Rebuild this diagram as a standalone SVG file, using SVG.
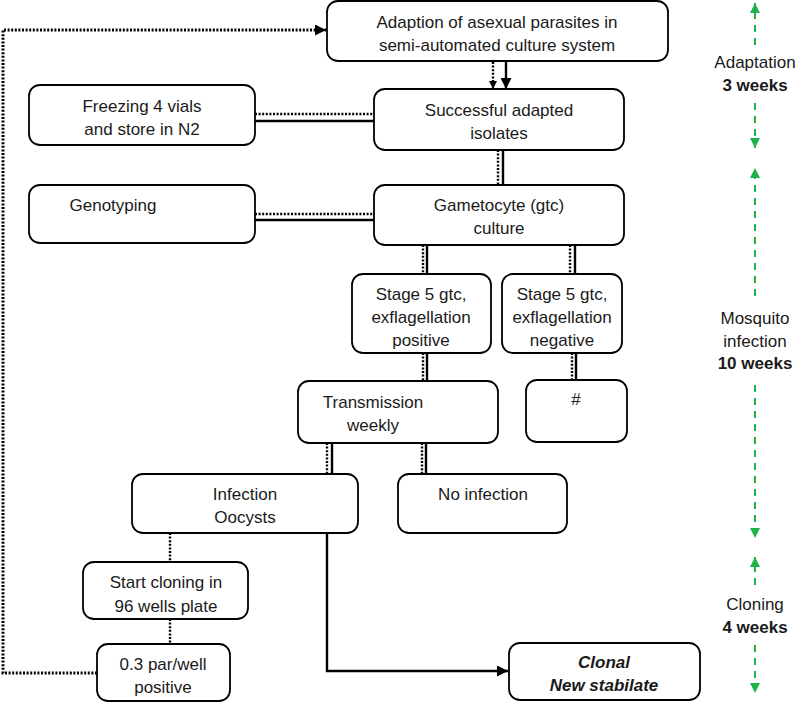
<svg xmlns="http://www.w3.org/2000/svg" width="797" height="703" viewBox="0 0 797 703">
<style>
.box{fill:#fff;stroke:#000;stroke-width:1.8}
.t{font-family:"Liberation Sans",Arial,sans-serif;font-size:17px;fill:#1a1a1a;text-anchor:middle}
.b{font-weight:bold}
.bi{font-weight:bold;font-style:italic}
.sol{fill:none;stroke:#000;stroke-width:2.4}
.dot{fill:none;stroke:#000;stroke-width:2.4;stroke-dasharray:2 1.6}
.grn{fill:none;stroke:#1db34a;stroke-width:2;stroke-dasharray:7 6}
</style>
<defs>
<marker id="ah" viewBox="0 0 10 10" refX="10" refY="5" markerWidth="11" markerHeight="11" markerUnits="userSpaceOnUse" orient="auto"><path d="M0,0L10,5L0,10z" fill="#000"/></marker>
<marker id="ahs" viewBox="0 0 10 10" refX="10" refY="5" markerWidth="8" markerHeight="8" markerUnits="userSpaceOnUse" orient="auto"><path d="M0,0L10,5L0,10z" fill="#000"/></marker>
<marker id="ag" viewBox="0 0 10 10" refX="10" refY="5" markerWidth="10" markerHeight="10" markerUnits="userSpaceOnUse" orient="auto"><path d="M0,0L10,5L0,10z" fill="#1db34a"/></marker>
</defs>

<g id="connectors">
<!-- adaption -> successful -->
<line class="dot" x1="493" y1="62" x2="493" y2="89" marker-end="url(#ahs)"/>
<line class="sol" x1="506" y1="62" x2="506" y2="89" marker-end="url(#ah)"/>
<!-- freezing - successful -->
<line class="dot" x1="255" y1="114" x2="374" y2="114"/>
<line class="sol" x1="255" y1="121" x2="374" y2="121"/>
<!-- genotyping - gametocyte -->
<line class="dot" x1="255" y1="214" x2="374" y2="214"/>
<line class="sol" x1="255" y1="220" x2="374" y2="220"/>
<!-- successful - gametocyte -->
<line class="dot" x1="498" y1="150" x2="498" y2="185"/>
<line class="sol" x1="503" y1="150" x2="503" y2="185"/>
<!-- gametocyte - stage5 pos/neg -->
<line class="dot" x1="423" y1="245" x2="423" y2="274"/>
<line class="sol" x1="427" y1="245" x2="427" y2="274"/>
<line class="dot" x1="570" y1="245" x2="570" y2="274"/>
<line class="sol" x1="575" y1="245" x2="575" y2="274"/>
<!-- stage5 pos - transmission -->
<line class="dot" x1="423" y1="353" x2="423" y2="381"/>
<line class="sol" x1="427" y1="353" x2="427" y2="381"/>
<!-- stage5 neg - # -->
<line class="dot" x1="572" y1="353" x2="572" y2="380"/>
<line class="sol" x1="576" y1="353" x2="576" y2="380"/>
<!-- transmission - infection / no infection -->
<line class="dot" x1="327" y1="443" x2="327" y2="474"/>
<line class="sol" x1="332" y1="443" x2="332" y2="474"/>
<line class="dot" x1="422" y1="443" x2="422" y2="474"/>
<line class="sol" x1="426" y1="443" x2="426" y2="474"/>
<!-- infection - start cloning - 0.3 -->
<line class="dot" x1="170" y1="533" x2="170" y2="562"/>
<line class="dot" x1="170" y1="619" x2="170" y2="644"/>
<!-- feedback -->
<polyline class="dot" style="stroke-width:3" points="97,673 3,673 3,30 326,30" marker-end="url(#ah)"/>
<!-- infection -> clonal -->
<polyline class="sol" points="327,533 327,671 508,671" marker-end="url(#ah)"/>
<!-- green timeline -->
<line class="grn" x1="755" y1="45" x2="755" y2="3" marker-end="url(#ag)"/>
<line class="grn" x1="755" y1="103" x2="755" y2="148" marker-end="url(#ag)"/>
<line class="grn" x1="755" y1="296" x2="755" y2="168" marker-end="url(#ag)"/>
<line class="grn" x1="755" y1="385" x2="755" y2="538" marker-end="url(#ag)"/>
<line class="grn" x1="755" y1="585" x2="755" y2="557" marker-end="url(#ag)"/>
<line class="grn" x1="755" y1="645" x2="755" y2="693" marker-end="url(#ag)"/>
</g>

<g id="n-adaption"><rect class="box" x="327" y="1" width="341" height="60" rx="11"/><text class="t" x="497" y="28">Adaption of asexual parasites in</text><text class="t" x="497" y="51">semi-automated culture system</text></g>
<g id="n-successful"><rect class="box" x="374" y="89" width="250" height="61" rx="11"/><text class="t" x="499" y="116">Successful adapted</text><text class="t" x="499" y="139">isolates</text></g>
<g id="n-freezing"><rect class="box" x="29" y="85" width="226" height="60" rx="11"/><text class="t" x="142" y="112">Freezing 4 vials</text><text class="t" x="142" y="135">and store in N2</text></g>
<g id="n-genotyping"><rect class="box" x="29" y="185" width="226" height="58" rx="11"/><text class="t" x="113" y="211">Genotyping</text></g>
<g id="n-gametocyte"><rect class="box" x="374" y="185" width="250" height="60" rx="11"/><text class="t" x="499" y="211">Gametocyte (gtc)</text><text class="t" x="499" y="234">culture</text></g>
<g id="n-stage5pos"><rect class="box" x="352" y="274" width="139" height="79" rx="11"/><text class="t" x="421" y="300">Stage 5 gtc,</text><text class="t" x="421" y="323">exflagellation</text><text class="t" x="421" y="346">positive</text></g>
<g id="n-stage5neg"><rect class="box" x="502" y="274" width="120" height="79" rx="11"/><text class="t" x="562" y="300">Stage 5 gtc,</text><text class="t" x="562" y="323">exflagellation</text><text class="t" x="562" y="346">negative</text></g>
<g id="n-transmission"><rect class="box" x="298" y="381" width="200" height="62" rx="11"/><text class="t" x="373" y="408">Transmission</text><text class="t" x="373" y="431">weekly</text></g>
<g id="n-hash"><rect class="box" x="526" y="380" width="101" height="62" rx="11"/><text class="t" x="576" y="405">#</text></g>
<g id="n-infection"><rect class="box" x="132" y="474" width="226" height="59" rx="11"/><text class="t" x="245" y="500">Infection</text><text class="t" x="245" y="523">Oocysts</text></g>
<g id="n-noinfection"><rect class="box" x="398" y="474" width="169" height="59" rx="11"/><text class="t" x="483" y="500">No infection</text></g>
<g id="n-startcloning"><rect class="box" x="83" y="562" width="165" height="57" rx="11"/><text class="t" x="166" y="588">Start cloning in</text><text class="t" x="166" y="612">96 wells plate</text></g>
<g id="n-parwell"><rect class="box" x="97" y="644" width="133" height="57" rx="11"/><text class="t" x="163" y="670">0.3 par/well</text><text class="t" x="163" y="693">positive</text></g>
<g id="n-clonal"><rect class="box" x="509" y="643" width="191" height="57" rx="11"/><text class="t bi" x="604" y="668">Clonal</text><text class="t bi" x="604" y="691">New stabilate</text></g>

<g id="timeline-labels">
<text class="t" x="755" y="68">Adaptation</text><text class="t b" x="755" y="91">3 weeks</text>
<text class="t" x="755" y="324">Mosquito</text><text class="t" x="755" y="347">infection</text><text class="t b" x="755" y="369">10 weeks</text>
<text class="t" x="755" y="610">Cloning</text><text class="t b" x="755" y="633">4 weeks</text>
</g>
</svg>
